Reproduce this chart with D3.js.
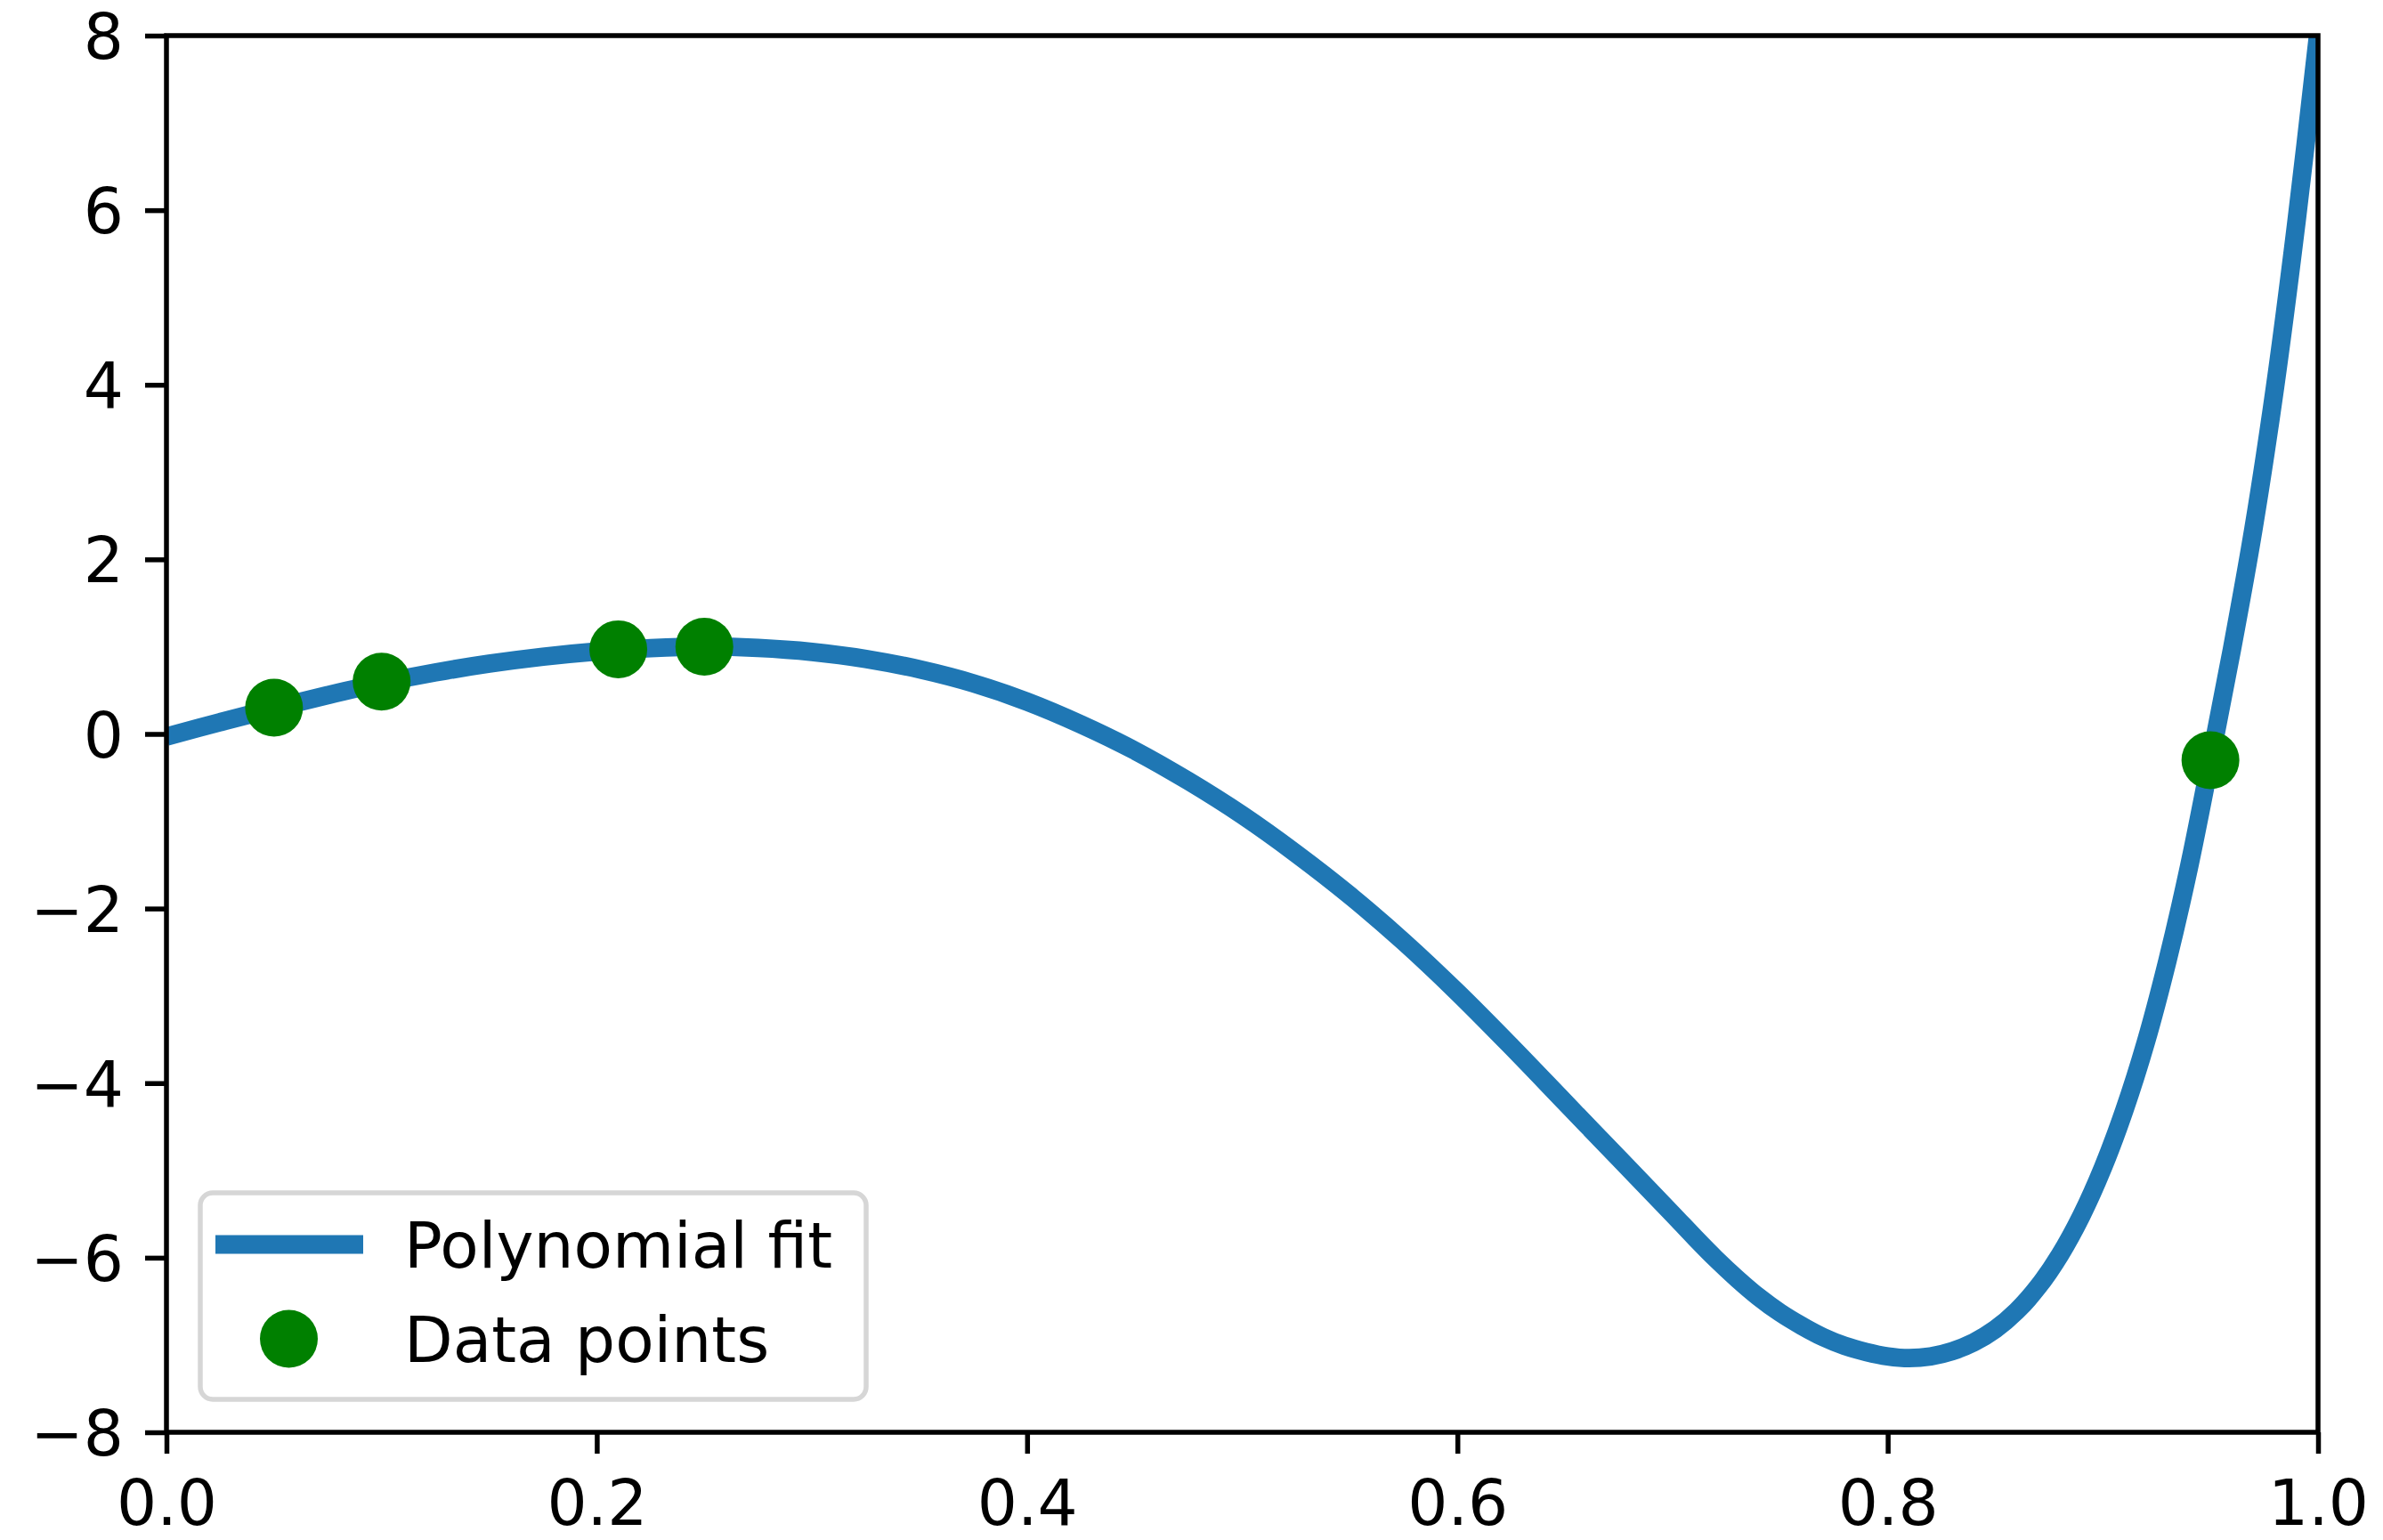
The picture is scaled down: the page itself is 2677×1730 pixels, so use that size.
<!DOCTYPE html>
<html>
<head>
<meta charset="utf-8">
<script src="https://cdn.jsdelivr.net/npm/d3@7"></script>
<style>
  body { margin: 0; background: #fff; }
  text { font-family: "DejaVu Sans", sans-serif; }
</style>
</head>
<body>
<svg id="chart"></svg>
<script>
// Fitted curve, sampled by eye from the plot
const fitX = [0.000, 0.025, 0.050, 0.075, 0.100, 0.125, 0.150, 0.175, 0.200, 0.225,
              0.250, 0.275, 0.300, 0.325, 0.350, 0.375, 0.400, 0.425, 0.450, 0.475,
              0.500, 0.525, 0.550, 0.575, 0.600, 0.625, 0.650, 0.675, 0.700,
              0.710, 0.720, 0.730, 0.740, 0.750, 0.760, 0.770, 0.780, 0.790, 0.800,
              0.810, 0.820, 0.830, 0.840, 0.850, 0.860, 0.870, 0.880, 0.890, 0.900,
              0.910, 0.920, 0.930, 0.940, 0.950, 0.960, 0.970, 0.980, 0.990, 1.000];
const fitY = [-0.03, 0.135, 0.295, 0.445, 0.585, 0.705, 0.805, 0.885, 0.945, 0.983,
              1.000, 0.985, 0.94, 0.86, 0.74, 0.58, 0.37, 0.11, -0.19, -0.54,
              -0.93, -1.37, -1.85, -2.38, -2.96, -3.58, -4.22, -4.86, -5.50,
              -5.76, -6.01, -6.24, -6.45, -6.63, -6.78, -6.91, -7.01, -7.08, -7.13,
              -7.15, -7.13, -7.07, -6.97, -6.82, -6.61, -6.33, -5.97, -5.52, -4.97,
              -4.31, -3.53, -2.60, -1.53, -0.30, 0.97, 2.35, 3.97, 5.87, 8.00];

// Data points
const pointX = [0.05, 0.10, 0.21, 0.25, 0.95];
const pointY = [0.30, 0.60, 0.97, 1.00, -0.30];

// Ticks and legend
const xTicks = [0.0, 0.2, 0.4, 0.6, 0.8, 1.0];
const yTicks = [-8, -6, -4, -2, 0, 2, 4, 6, 8];
const legendLabels = ["Polynomial fit", "Data points"];

const lineColor = "#1f77b4";
const pointColor = "#008000";

// Set up dimensions and margins
const margin = { top: 40, right: 73, bottom: 121, left: 187 };
const width = 2677 - margin.left - margin.right;
const height = 1730 - margin.top - margin.bottom;

const svg = d3.select("#chart")
    .attr("width", 2677)
    .attr("height", 1730)
  .append("g")
    .attr("transform", `translate(${margin.left},${margin.top})`);

// Scales
const xScale = d3.scaleLinear().domain([0, 1]).range([0, width]);
const yScale = d3.scaleLinear().domain([-8, 8]).range([height, 0]);

// Axes
const xAxis = d3.axisBottom(xScale)
    .tickValues(xTicks)
    .tickFormat(d3.format(".1f"))
    .tickSizeInner(24).tickSizeOuter(0).tickPadding(30);
const yAxis = d3.axisLeft(yScale)
    .tickValues(yTicks)
    .tickFormat(d3.format("d"))
    .tickSizeInner(24).tickSizeOuter(0).tickPadding(24);

const xAxisGroup = svg.append("g")
    .attr("transform", `translate(0,${height})`)
    .call(xAxis);
const yAxisGroup = svg.append("g")
    .call(yAxis);

[xAxisGroup, yAxisGroup].forEach(g => {
  g.select(".domain").remove();
  g.selectAll(".tick line").attr("stroke", "#000").attr("stroke-width", 5.5);
  g.selectAll(".tick text")
      .attr("fill", "#000")
      .style("font-size", "71px")
      .style("font-family", "'DejaVu Sans', sans-serif");
});
yAxisGroup.selectAll(".tick text").attr("dy", "0.36em");

// Clip the curve to the axes box
svg.append("clipPath").attr("id", "plot-clip")
  .append("rect").attr("width", width).attr("height", height);

const fitData = fitX.map((x, i) => ({ x: x, y: fitY[i] }));
const line = d3.line()
    .x(d => xScale(d.x))
    .y(d => yScale(d.y))
    .curve(d3.curveCatmullRom.alpha(0.5));

svg.append("path")
    .datum(fitData)
    .attr("clip-path", "url(#plot-clip)")
    .attr("fill", "none")
    .attr("stroke", lineColor)
    .attr("stroke-width", 20.8)
    .attr("stroke-linejoin", "round")
    .attr("d", line);

const points = pointX.map((x, i) => ({ x: x, y: pointY[i] }));
svg.selectAll("circle.pt")
    .data(points)
  .enter().append("circle")
    .attr("class", "pt")
    .attr("cx", d => xScale(d.x))
    .attr("cy", d => yScale(d.y))
    .attr("r", 32.5)
    .attr("fill", pointColor);

// Spines
svg.append("rect")
    .attr("width", width)
    .attr("height", height)
    .attr("fill", "none")
    .attr("stroke", "#000")
    .attr("stroke-width", 5.5);

// Legend (lower left)
const legend = svg.append("g").attr("transform", "translate(38,1300)");
legend.append("rect")
    .attr("width", 748)
    .attr("height", 232)
    .attr("rx", 14)
    .attr("fill", "#fff")
    .attr("fill-opacity", 0.8)
    .attr("stroke", "#d6d6d6")
    .attr("stroke-width", 5.5);
legend.append("line")
    .attr("x1", 17).attr("x2", 183)
    .attr("y1", 58).attr("y2", 58)
    .attr("stroke", lineColor)
    .attr("stroke-width", 20.8);
legend.append("circle")
    .attr("cx", 99.5).attr("cy", 164)
    .attr("r", 32.5)
    .attr("fill", pointColor);
legend.selectAll("text.lab")
    .data(legendLabels)
  .enter().append("text")
    .attr("class", "lab")
    .attr("x", 229)
    .attr("y", (d, i) => 84 + i * 106)
    .style("font-size", "71px")
    .attr("fill", "#000")
    .text(d => d);
</script>
</body>
</html>
